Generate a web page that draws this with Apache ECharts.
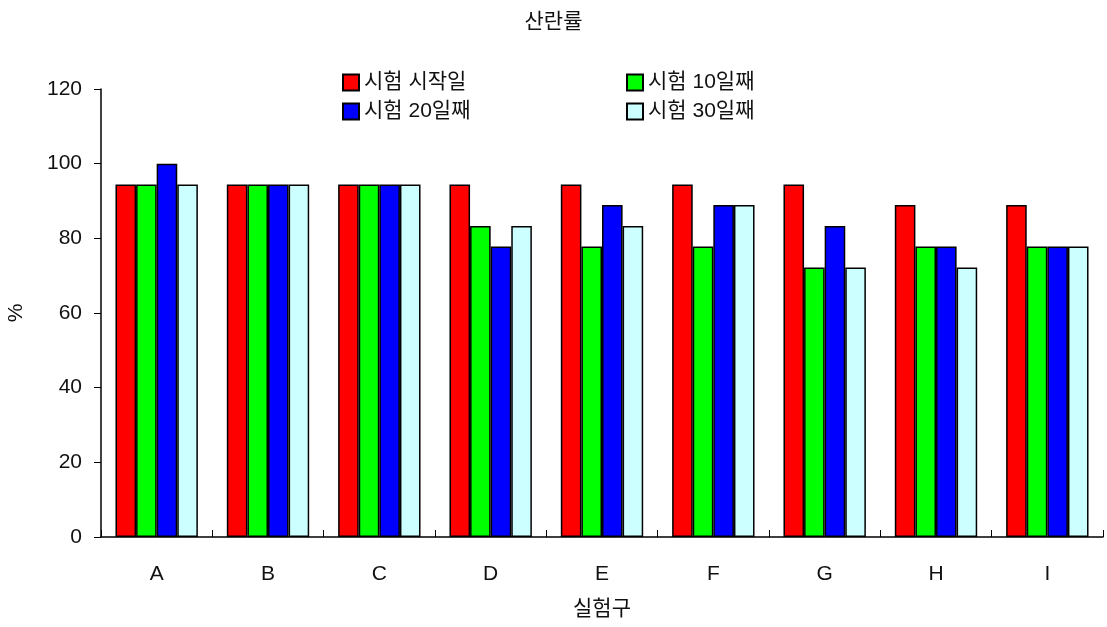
<!DOCTYPE html>
<html>
<head>
<meta charset="utf-8">
<script src="https://cdn.jsdelivr.net/npm/echarts@6/dist/echarts.min.js"></script>
<style>
  html, body { margin: 0; padding: 0; background: #fff; }
  #chart { width: 1107px; height: 627px; }
</style>
</head>
<body>
<div id="chart"></div>
<script>
// 실험구별 산란률 (%)
const categories = ['A', 'B', 'C', 'D', 'E', 'F', 'G', 'H', 'I'];
const seriesNames = ['시험 시작일', '시험 10일째', '시험 20일째', '시험 30일째'];
const day0  = [94.4, 94.4, 94.4, 94.4, 94.4, 94.4, 94.4, 88.9, 88.9];
const day10 = [94.4, 94.4, 94.4, 83.3, 77.8, 77.8, 72.2, 77.8, 77.8];
const day20 = [100.0, 94.4, 94.4, 77.8, 88.9, 88.9, 83.3, 77.8, 77.8];
const day30 = [94.4, 94.4, 94.4, 83.3, 83.3, 88.9, 72.2, 72.2, 77.8];
const yTicks = [0, 20, 40, 60, 80, 100, 120];

const FONT = '"Liberation Sans", Arial, "Noto Sans CJK KR", sans-serif';
const colors = ['#FF0000', '#00FF00', '#0000FF', '#CCFFFF'];
const values = [day0, day10, day20, day30];

const chart = echarts.init(document.getElementById('chart'));

const legendText = { fontFamily: FONT, fontSize: 21, color: '#111' };
const legendCommon = {
  orient: 'vertical',
  top: 67,
  icon: 'rect',
  itemWidth: 16,
  itemHeight: 16,
  itemGap: 8,
  textStyle: legendText
};

chart.setOption({
  animation: false,
  backgroundColor: '#fff',
  title: {
    text: '산란률',
    left: 'center',
    top: 7,
    textStyle: { fontFamily: FONT, fontSize: 21, fontWeight: 'normal', color: '#111' }
  },
  legend: [
    Object.assign({ data: [seriesNames[0], seriesNames[2]], left: 337 }, legendCommon),
    Object.assign({ data: [seriesNames[1], seriesNames[3]], left: 621 }, legendCommon)
  ],
  grid: { left: 101, right: 4, top: 89, bottom: 90, containLabel: false, outerBoundsMode: 'none' },
  xAxis: {
    type: 'category',
    data: categories,
    name: '실험구',
    nameLocation: 'middle',
    nameGap: 62,
    nameTextStyle: { fontFamily: FONT, fontSize: 21, color: '#111' },
    axisLine: { lineStyle: { color: '#000', width: 1.5 } },
    axisTick: { show: true, inside: true, length: 7, lineStyle: { color: '#000' } },
    axisLabel: { fontFamily: FONT, fontSize: 21, color: '#111', margin: 27 }
  },
  yAxis: {
    type: 'value',
    min: yTicks[0],
    max: yTicks[yTicks.length - 1],
    interval: 20,
    name: '%',
    nameLocation: 'middle',
    nameGap: 74,
    nameRotate: 90,
    nameTextStyle: { fontFamily: FONT, fontSize: 21, color: '#111' },
    axisLine: { show: true, lineStyle: { color: '#000', width: 1.5 } },
    axisTick: { show: true, inside: false, length: 7, lineStyle: { color: '#000' } },
    axisLabel: { fontFamily: FONT, fontSize: 21, color: '#111', margin: 19 },
    splitLine: { show: false }
  },
  series: seriesNames.map((name, i) => ({
    name: name,
    type: 'bar',
    data: values[i],
    barGap: '0%',
    barCategoryGap: '26%',
    itemStyle: { color: colors[i], borderColor: '#000', borderWidth: 1.5 }
  }))
});
</script>
</body>
</html>
